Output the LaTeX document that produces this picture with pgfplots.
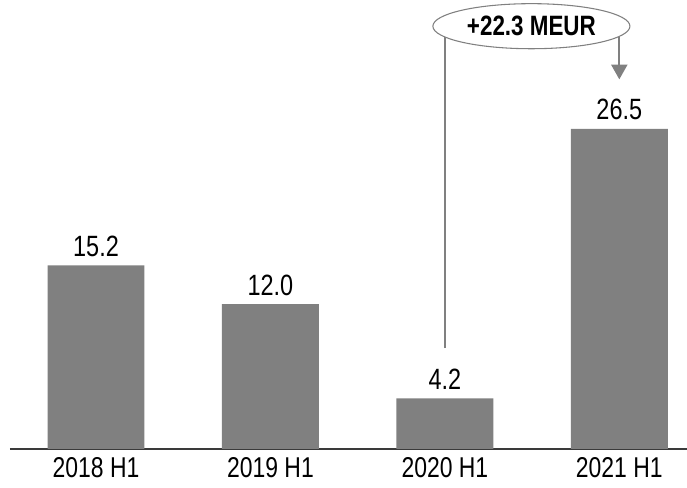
\documentclass[border=0pt]{standalone}
\usepackage{pgfplots}
\pgfplotsset{compat=1.18}
\usepackage{fontspec}
\setmainfont{Liberation Sans}[FakeStretch=0.8]
\usetikzlibrary{arrows.meta}
\definecolor{bargray}{HTML}{808080}
\definecolor{axgray}{HTML}{3A3A3A}
\begin{document}
\begin{tikzpicture}
\useasboundingbox (0,0) rectangle (515.25pt,366pt);
\begin{axis}[
  at={(7.5pt,29.25pt)}, anchor=south west,
  scale only axis, width=507.75pt, height=336.75pt,
  xmin=-0.493, xmax=3.388, ymin=0, ymax=37.17,
  axis x line=bottom, axis y line=none,
  axis line style={axgray, line width=1.1pt, -},
  xtick={0,1,2,3}, xticklabels={2018 H1,2019 H1,2020 H1,2021 H1},
  major tick length=0pt,
  xticklabel style={font=\fontsize{21.5pt}{24pt}\selectfont, text=black, yshift=-3pt},
  ytick=\empty,
  clip=false,
  ybar, bar width=0.556,
  nodes near coords,
  every node near coord/.append style={font=\fontsize{22pt}{26pt}\selectfont, text=black, yshift=3pt,
    /pgf/number format/.cd, fixed, fixed zerofill, precision=1, assume math mode=true},
]
\addplot[fill=bargray, draw=none] coordinates {(0,15.2) (1,12.0) (2,4.2) (3,26.5)};
\draw[bargray, line width=1.5pt] (axis cs:2,8.36) |- (axis cs:3,35.0) -- (axis cs:3,32);
\draw[bargray, line width=1.5pt, -{Triangle[width=12pt,length=11pt]}] (axis cs:3,32) -- (axis cs:3,30.6);
\draw[bargray, line width=0.8pt, fill=white] (axis cs:2.496,35.0) ellipse [x radius=73.9pt, y radius=16.9pt];
\node[inner sep=0pt, font=\fontsize{21pt}{24pt}\selectfont\bfseries] at (axis cs:2.496,35.0) {+22.3 MEUR};
\end{axis}
\end{tikzpicture}
\end{document}
